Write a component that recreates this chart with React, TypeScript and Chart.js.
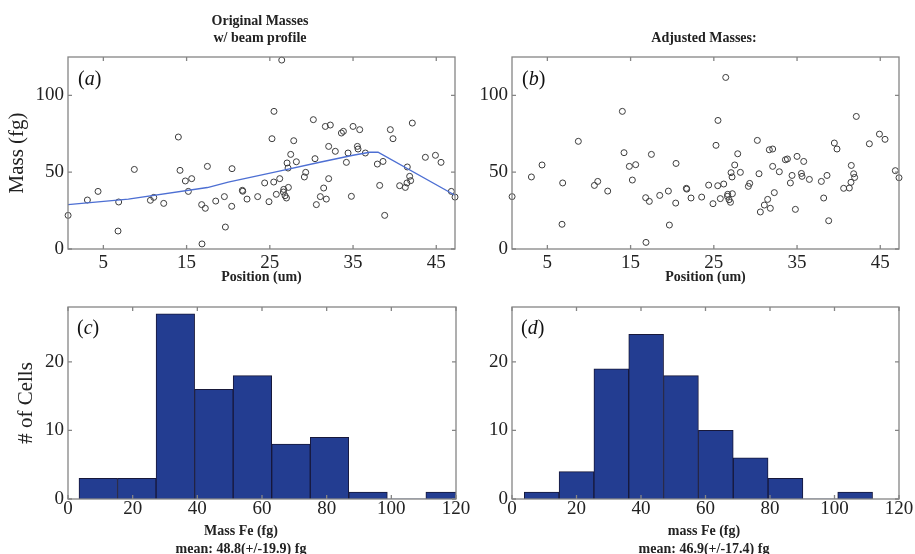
import React, { useEffect, useRef } from "react";
import { Chart, registerables } from "chart.js";

Chart.register(...registerables);

const SERIF = '"Liberation Serif", "Times New Roman", serif';
Chart.defaults.font.family = SERIF;

// ---- data ----
const positions = [0.76, 3.08, 4.36, 6.84, 6.76, 8.72, 10.65, 11.05, 12.25, 14.01, 14.21, 14.85, 15.21, 15.61, 17.5, 16.81, 17.25, 16.85, 18.5, 19.54, 19.66, 20.42, 20.46, 21.7, 21.75, 22.26, 23.54, 24.38, 24.9, 25.26, 25.5, 25.47, 25.78, 26.19, 26.43, 26.67, 26.63, 26.83, 27.0, 27.07, 27.19, 27.23, 27.51, 27.87, 28.19, 29.15, 29.31, 30.23, 30.43, 30.59, 31.07, 31.47, 31.67, 31.79, 32.07, 32.07, 32.27, 32.87, 33.6, 33.84, 34.2, 34.4, 34.8, 35.0, 35.52, 35.6, 35.8, 36.48, 37.92, 38.2, 38.6, 38.8, 39.48, 39.8, 40.6, 41.28, 41.48, 41.52, 41.8, 41.92, 42.12, 43.69, 44.9, 45.57, 46.81, 47.25];

const originalMass = [21.9, 31.9, 37.5, 30.6, 11.7, 51.8, 31.7, 33.6, 29.7, 72.9, 51.2, 44.3, 37.5, 45.8, 53.8, 28.9, 26.5, 3.3, 31.2, 34.1, 14.3, 27.8, 52.3, 38.2, 37.6, 32.5, 34.1, 43.0, 30.8, 71.8, 89.6, 43.6, 35.6, 45.8, 123, 38.8, 37.1, 34.7, 33.2, 56.0, 52.7, 40.1, 61.6, 70.5, 56.8, 46.9, 49.9, 84.2, 58.8, 28.9, 34.1, 39.7, 79.8, 32.5, 66.8, 45.8, 80.7, 63.6, 75.5, 76.6, 56.4, 62.5, 34.3, 79.8, 66.8, 65.1, 77.7, 62.5, 55.3, 41.4, 57.0, 21.9, 77.7, 71.8, 41.2, 40.1, 43.0, 53.4, 47.3, 44.5, 82.0, 59.7, 61.0, 56.4, 37.5, 33.8];

const adjustedMass = [34.1, 46.9, 54.7, 43.0, 16.1, 70.1, 41.4, 44.0, 37.7, 89.6, 62.7, 53.8, 44.9, 54.9, 61.6, 33.4, 31.0, 4.3, 34.9, 37.7, 15.6, 29.9, 55.7, 39.5, 39.0, 33.2, 33.8, 41.6, 29.5, 67.5, 83.7, 41.2, 32.8, 42.3, 111.7, 35.6, 34.3, 32.1, 30.4, 49.7, 46.9, 36.0, 54.7, 62.0, 49.9, 40.8, 42.7, 70.7, 49.0, 24.1, 28.6, 32.3, 64.6, 26.5, 65.1, 53.8, 36.7, 50.3, 58.1, 58.6, 43.0, 47.9, 25.8, 60.3, 49.2, 47.3, 57.0, 45.3, 44.0, 33.2, 47.9, 18.4, 69.0, 65.1, 39.5, 39.7, 43.4, 54.4, 49.0, 46.6, 86.3, 68.5, 74.8, 71.4, 51.0, 46.4];

const fitPositions = [0.75, 8, 17.5, 20, 26, 31, 35, 37, 38, 47.25];
const fitMass = [28.9, 32.5, 40, 43.5, 50.5, 56.5, 61, 63, 63, 35];

const positionTicks = [5, 15, 25, 35, 45];
const massTicks = [0, 50, 100];

const originalBinCenters = [9.36, 21.28, 33.2, 45.12, 57.04, 68.96, 80.88, 92.8, 104.72, 116.64];
const originalCounts = [3, 3, 27, 16, 18, 8, 9, 1, 0, 1];
const adjustedBinCenters = [9.2, 20.0, 30.8, 41.6, 52.4, 63.2, 74.0, 84.8, 95.6, 106.4];
const adjustedCounts = [1, 4, 19, 24, 18, 10, 6, 3, 0, 1];
const feTicks = [0, 20, 40, 60, 80, 100, 120];
const countTicks = [0, 10, 20];

// ---- styling helpers ----
const TEXT = "#222";
const FRAME = "#858585";

const framePlugin = {
  id: "matlabFrame",
  afterDatasetsDraw(chart: any) {
    const { ctx, chartArea: a, scales } = chart;
    const L = 4;
    ctx.save();
    ctx.strokeStyle = FRAME;
    ctx.lineWidth = 1.3;
    ctx.beginPath();
    for (const t of scales.x.ticks) {
      const px = scales.x.getPixelForValue(t.value);
      ctx.moveTo(px, a.bottom);
      ctx.lineTo(px, a.bottom - L);
      ctx.moveTo(px, a.top);
      ctx.lineTo(px, a.top + L);
    }
    for (const t of scales.y.ticks) {
      const py = scales.y.getPixelForValue(t.value);
      ctx.moveTo(a.left, py);
      ctx.lineTo(a.left + L, py);
      ctx.moveTo(a.right, py);
      ctx.lineTo(a.right - L, py);
    }
    ctx.stroke();
    ctx.strokeRect(a.left, a.top, a.right - a.left, a.bottom - a.top);
    ctx.restore();
  },
};

function tickSetter(values: number[]) {
  return (s: any) => {
    s.ticks = values.map((v) => ({ value: v }));
  };
}

function yScale(max: number, ticks: number[], width: number, title: string | null) {
  return {
    type: "linear",
    min: 0,
    max,
    afterBuildTicks: tickSetter(ticks),
    afterFit: (s: any) => {
      s.width = width;
    },
    grid: { display: false, drawTicks: false },
    border: { display: false },
    ticks: { padding: 4, color: TEXT, font: { family: SERIF, size: 19, lineHeight: 1 } },
    title: {
      display: !!title,
      text: title || "",
      padding: 0,
      color: TEXT,
      font: { family: SERIF, size: 21, lineHeight: 1.2 },
    },
  };
}

function xScale(min: number, max: number, ticks: number[], height: number, pad: number, title: string | null) {
  return {
    type: "linear",
    min,
    max,
    offset: false,
    afterBuildTicks: tickSetter(ticks),
    afterFit: (s: any) => {
      s.height = height;
    },
    grid: { display: false, drawTicks: false, offset: false },
    border: { display: false },
    ticks: { padding: pad, color: TEXT, maxRotation: 0, autoSkip: false, font: { family: SERIF, size: 19, lineHeight: 1 } },
    title: {
      display: !!title,
      text: title || "",
      padding: 0,
      color: TEXT,
      font: { family: SERIF, size: 14, weight: "bold", lineHeight: 1.2 },
    },
  };
}

const basePlugins = {
  legend: { display: false },
  tooltip: { enabled: false },
  title: { display: false },
};

function scatterConfig(masses: number[], withFit: boolean, yTitle: string | null, yW: number, padL: number, padR: number) {
  const datasets: any[] = [];
  if (withFit) {
    datasets.push({
      type: "line",
      data: fitPositions.map((x, i) => ({ x, y: fitMass[i] })),
      borderColor: "#4d6fd3",
      borderWidth: 1.4,
      pointRadius: 0,
      fill: false,
      tension: 0,
      clip: false,
    });
  }
  datasets.push({
    type: "scatter",
    data: positions.map((x, i) => ({ x, y: masses[i] })),
    pointStyle: "circle",
    pointRadius: 3,
    borderColor: "#3c3c3c",
    borderWidth: 1,
    backgroundColor: "rgba(0,0,0,0)",
    clip: false,
  });
  return {
    type: "scatter",
    data: { datasets },
    options: {
      responsive: false,
      animation: false,
      events: [],
      layout: { padding: { left: padL, top: 57, right: padR, bottom: 0 } },
      plugins: basePlugins,
      scales: {
        x: xScale(0.75, 47.25, positionTicks, 37, 5, "Position (um)"),
        y: yScale(125, massTicks, yW, yTitle),
      },
    },
    plugins: [framePlugin],
  };
}

function histConfig(centers: number[], counts: number[], yTitle: string | null, yW: number, padL: number, padR: number) {
  return {
    type: "bar",
    data: {
      datasets: [
        {
          data: centers.map((x, i) => ({ x, y: counts[i] })),
          backgroundColor: "#233d91",
          borderColor: "#17183a",
          borderWidth: (c: any) => (c.raw && c.raw.y === 0 ? 0 : 1),
          borderSkipped: "start",
          barPercentage: 1,
          categoryPercentage: 1,
        },
      ],
    },
    options: {
      responsive: false,
      animation: false,
      events: [],
      layout: { padding: { left: padL, top: 17, right: padR, bottom: 0 } },
      plugins: basePlugins,
      scales: {
        x: xScale(0, 120, feTicks, 55, 1, null),
        y: yScale(28, countTicks, yW, yTitle),
      },
    },
    plugins: [framePlugin],
  };
}

function ChartBox(props: { make: () => any; left: number; top: number; width: number; height: number }) {
  const ref = useRef<HTMLCanvasElement>(null);
  useEffect(() => {
    const chart = new Chart(ref.current as HTMLCanvasElement, props.make());
    return () => chart.destroy();
  }, []);
  return (
    <canvas
      ref={ref}
      width={props.width}
      height={props.height}
      style={{ position: "absolute", left: props.left, top: props.top, width: props.width, height: props.height }}
    />
  );
}

function Caption(props: { center: number; top: number; lines: string[]; lh: number }) {
  return (
    <div
      style={{
        position: "absolute",
        left: props.center - 160,
        width: 320,
        top: props.top,
        textAlign: "center",
        font: `bold 14px ${SERIF}`,
        lineHeight: `${props.lh}px`,
        color: TEXT,
        whiteSpace: "nowrap",
      }}
    >
      {props.lines.map((l, i) => (
        <div key={i}>{l}</div>
      ))}
    </div>
  );
}

function PanelLabel(props: { left: number; top: number; letter: string }) {
  return (
    <div
      style={{
        position: "absolute",
        left: props.left,
        top: props.top,
        font: `20px ${SERIF}`,
        lineHeight: "20px",
        color: "#111",
        whiteSpace: "nowrap",
      }}
    >
      (<i>{props.letter}</i>)
    </div>
  );
}

export default function App() {
  return (
    <div style={{ position: "fixed", left: 0, top: 0, width: 915, height: 554, background: "#fff", overflow: "hidden" }}>
      <ChartBox make={() => scatterConfig(originalMass, true, "Mass (fg)", 63, 5, 5)} left={0} top={0} width={460} height={286} />
      <ChartBox make={() => scatterConfig(adjustedMass, false, null, 48, 4, 16)} left={460} top={0} width={455} height={286} />
      <ChartBox make={() => histConfig(originalBinCenters, originalCounts, "# of Cells", 54, 14, 16)} left={0} top={290} width={472} height={264} />
      <ChartBox make={() => histConfig(adjustedBinCenters, adjustedCounts, null, 48, 4, 16)} left={460} top={290} width={455} height={264} />

      <Caption center={260} top={12} lh={17} lines={["Original Masses", "w/ beam profile"]} />
      <Caption center={704} top={29} lh={17} lines={["Adjusted Masses:"]} />
      <Caption center={241} top={522} lh={17.5} lines={["Mass Fe (fg)", "mean: 48.8(+/-19.9) fg"]} />
      <Caption center={704} top={522} lh={17.5} lines={["mass Fe (fg)", "mean: 46.9(+/-17.4) fg"]} />

      <PanelLabel left={78} top={68} letter="a" />
      <PanelLabel left={522} top={68} letter="b" />
      <PanelLabel left={77} top={317} letter="c" />
      <PanelLabel left={521} top={317} letter="d" />
    </div>
  );
}
